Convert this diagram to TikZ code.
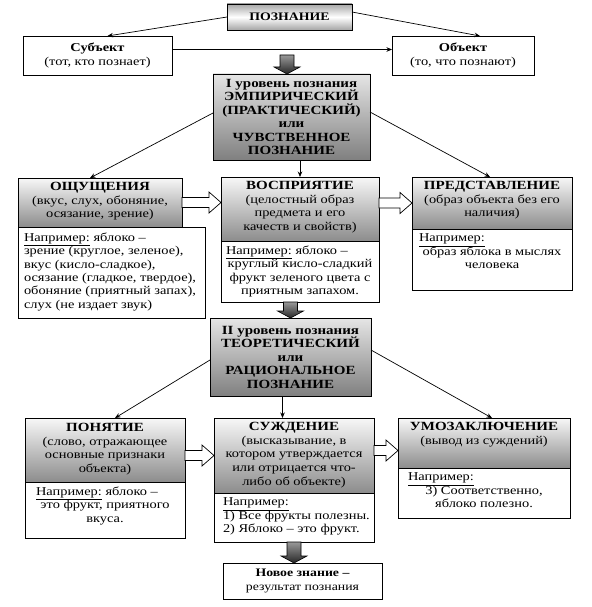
\documentclass[tikz,border=0pt]{standalone}
\usepackage{fontspec}
\setmainfont{Liberation Serif}[FakeStretch=1.2]
\usetikzlibrary{arrows.meta,calc}
\newcommand{\ftitle}{\fontsize{12.5}{13.5}\selectfont\bfseries}
\newcommand{\fsub}{\fontsize{12}{13.8}\selectfont}
\newcommand{\fbody}{\fontsize{12}{13.3}\selectfont}
\newcommand{\Ex}{\underline{Например:}}
\newcommand{\bx}[6]{\node[#6, minimum width={(#4-#2)*1pt}, minimum height={(#5-#3)*1pt}] (#1) at (#2,#3) {};}
\newcommand{\harr}[2]{\draw[line width=0.7pt, fill=white] let \p1=#1, \p2=#2 in
  (\x1,\y1+5pt) -- (\x2-12pt,\y1+5pt) -- (\x2-12pt,\y1+10.5pt) -- (\x2,\y1)
  -- (\x2-12pt,\y1-10.5pt) -- (\x2-12pt,\y1-5pt) -- (\x1,\y1-5pt) -- cycle;}
\newcommand{\darr}[2]{\draw[line width=0.6pt, top color=black!40, bottom color=black!85] let \p1=#1, \p2=#2 in
  (\x1-7pt,\y1) -- (\x1+7pt,\y1) -- (\x1+7pt,\y2+7pt) -- (\x1+13pt,\y2+7pt) -- (\x1,\y2)
  -- (\x1-13pt,\y2+7pt) -- (\x1-7pt,\y2+7pt) -- cycle;}
\begin{document}
\begin{tikzpicture}[x=1pt,y=-1pt,
  every node/.style={inner sep=0pt, outer sep=0pt},
  boxline/.style={draw=black, line width=0.8pt},
  hdr/.style={boxline, anchor=north west, top color=black!3, bottom color=black!45},
  lvl/.style={boxline, anchor=north west, top color=black!10, bottom color=black!50},
  topbox/.style={boxline, anchor=north west, top color=black!35, bottom color=black!35, middle color=white},
  plain/.style={boxline, anchor=north west, fill=white},
  htext/.style={anchor=north, align=center, font=\fsub},
  ctext/.style={align=center, font=\fsub},
  etext/.style={anchor=north west, align=left, font=\fbody},
  ecent/.style={anchor=north, align=center, font=\fbody},
  conn/.style={line width=0.7pt, -{Stealth[length=5.5pt,width=4.5pt]}}
]
\fill[white] (0,0) rectangle (591,607);

% boxes
\bx{poz}{227}{4}{352}{30}{topbox}
\bx{subj}{23}{36}{172}{75}{plain}
\bx{obj}{392}{36}{534}{75}{plain}
\bx{lvl1}{213}{74}{370}{160}{lvl}
\bx{osh}{18}{178}{182}{227}{hdr}
\bx{oshx}{18}{227}{205}{318}{plain}
\bx{vos}{221}{177}{379}{241}{hdr}
\bx{vosx}{221}{241}{379}{302}{plain}
\bx{pred}{412}{177}{572}{229}{hdr}
\bx{predx}{412}{229}{572}{290}{plain}
\bx{lvl2}{210}{318}{371}{396}{lvl}
\bx{pon}{25}{418}{185}{482}{hdr}
\bx{ponx}{25}{482}{185}{538}{plain}
\bx{sud}{214}{418}{374}{493}{hdr}
\bx{sudx}{214}{493}{374}{542}{plain}
\bx{umo}{398}{418}{570}{468}{hdr}
\bx{umox}{398}{468}{570}{518}{plain}
\bx{res}{223}{563}{382}{599}{plain}

% texts
\node[ctext, font=\fontsize{11.5}{14}\selectfont\bfseries] (pozt) at (poz.center) {ПОЗНАНИЕ};
\node[ctext] (subjt) at (subj.center) {{\bfseries Субъект}\\(тот, кто познает)};
\node[ctext] (objt) at (obj.center) {{\bfseries Объект}\\(то, что познают)};
\node[ctext, font=\ftitle] (lvl1t) at (lvl1.center) {I уровень познания\\ЭМПИРИЧЕСКИЙ\\(ПРАКТИЧЕСКИЙ)\\или\\ЧУВСТВЕННОЕ\\ПОЗНАНИЕ};
\node[htext] (osht) at ([yshift=-4pt]osh.north) {{\ftitle ОЩУЩЕНИЯ}\\(вкус, слух, обоняние,\\осязание, зрение)};
\node[etext] (oshxt) at ([xshift=6pt,yshift=-6pt]oshx.north west) {\Ex{} яблоко –\\зрение (круглое, зеленое),\\вкус (кисло-сладкое),\\осязание (гладкое, твердое),\\обоняние (приятный запах),\\слух (не издает звук)};
\node[htext] (vost) at ([yshift=-4pt]vos.north) {{\ftitle ВОСПРИЯТИЕ}\\(целостный образ\\предмета и его\\качеств и свойств)};
\node[ecent] (vosxt) at ([yshift=-5pt]vosx.north) {\makebox[150pt][l]{\hspace{1pt}\Ex{} яблоко –}\\круглый кисло-сладкий\\фрукт зеленого цвета с\\приятным запахом.};
\node[htext] (predt) at ([yshift=-4pt]pred.north) {{\ftitle ПРЕДСТАВЛЕНИЕ}\\(образ объекта без его\\наличия)};
\node[ecent] (predxt) at ([yshift=-5pt]predx.north) {\makebox[150pt][l]{\hspace{2pt}\Ex}\\образ яблока в мыслях\\человека};
\node[ctext, font=\ftitle] (lvl2t) at (lvl2.center) {II уровень познания\\ТЕОРЕТИЧЕСКИЙ\\или\\РАЦИОНАЛЬНОЕ\\ПОЗНАНИЕ};
\node[htext] (pont) at ([yshift=-5pt]pon.north) {{\ftitle ПОНЯТИЕ}\\(слово, отражающее\\основные признаки\\объекта)};
\node[ecent] (ponxt) at ([yshift=-5pt]ponx.north) {\makebox[150pt][l]{\hspace{6pt}\Ex{} яблоко –}\\это фрукт, приятного\\вкуса.};
\node[htext] (sudt) at ([yshift=-4pt]sud.north) {{\ftitle СУЖДЕНИЕ}\\(высказывание, в\\котором утверждается\\или отрицается что-\\либо об объекте)};
\node[etext] (sudxt) at ([xshift=9pt,yshift=-5pt]sudx.north west) {\Ex\\1) Все фрукты полезны.\\2) Яблоко – это фрукт.};
\node[htext] (umot) at ([yshift=-4pt]umo.north) {{\ftitle УМОЗАКЛЮЧЕНИЕ}\\(вывод из суждений)};
\node[ecent] (umoxt) at ([yshift=-5pt]umox.north) {\makebox[160pt][l]{\hspace{4pt}\Ex}\\3) Соответственно,\\яблоко полезно.};
\node[ctext, font=\fontsize{11.5}{13.3}\selectfont] (rest) at (res.center) {{\bfseries Новое знание –}\\результат познания};

% thin connectors
\draw[conn] (poz.west) -- ([xshift=10pt]subj.north);
\draw[conn] ([yshift=5pt]poz.east) -- ([xshift=17pt]obj.north);
\draw[conn] ([yshift=6pt]subj.east) -- ([yshift=6pt]obj.west);
\draw[conn] ([yshift=4pt]lvl1.west) -- ([xshift=-10pt]osh.north);
\draw[conn] ([yshift=5pt]lvl1.east) -- ([xshift=-2pt]pred.north);
\draw[conn] (lvl1.south -| vos.north) -- (vos.north);
\draw[conn] ([yshift=-3pt]lvl2.west) -- ([xshift=10pt]pon.north);
\draw[conn] ([yshift=7pt]lvl2.east) -- ([xshift=8pt]umo.north);
\draw[conn] ([xshift=-8pt]lvl2.south) -- ([xshift=-8pt]lvl2.south |- sud.north);

% block arrows
\coordinate (dtop) at (287,55);
\darr{(dtop)}{(lvl1.north -| dtop)}
\darr{(vosx.south -| lvl2.north)}{(lvl2.north)}
\darr{(sudx.south)}{(res.north -| sudx.south)}
\harr{(osh.east)}{(vos.west |- osh.east)}
\harr{(vos.east |- pred.west)}{(pred.west)}
\harr{(pon.east |- sud.west)}{(sud.west)}
\harr{([yshift=5pt]sud.east)}{([yshift=5pt]sud.east -| umo.west)}
\end{tikzpicture}
\end{document}
